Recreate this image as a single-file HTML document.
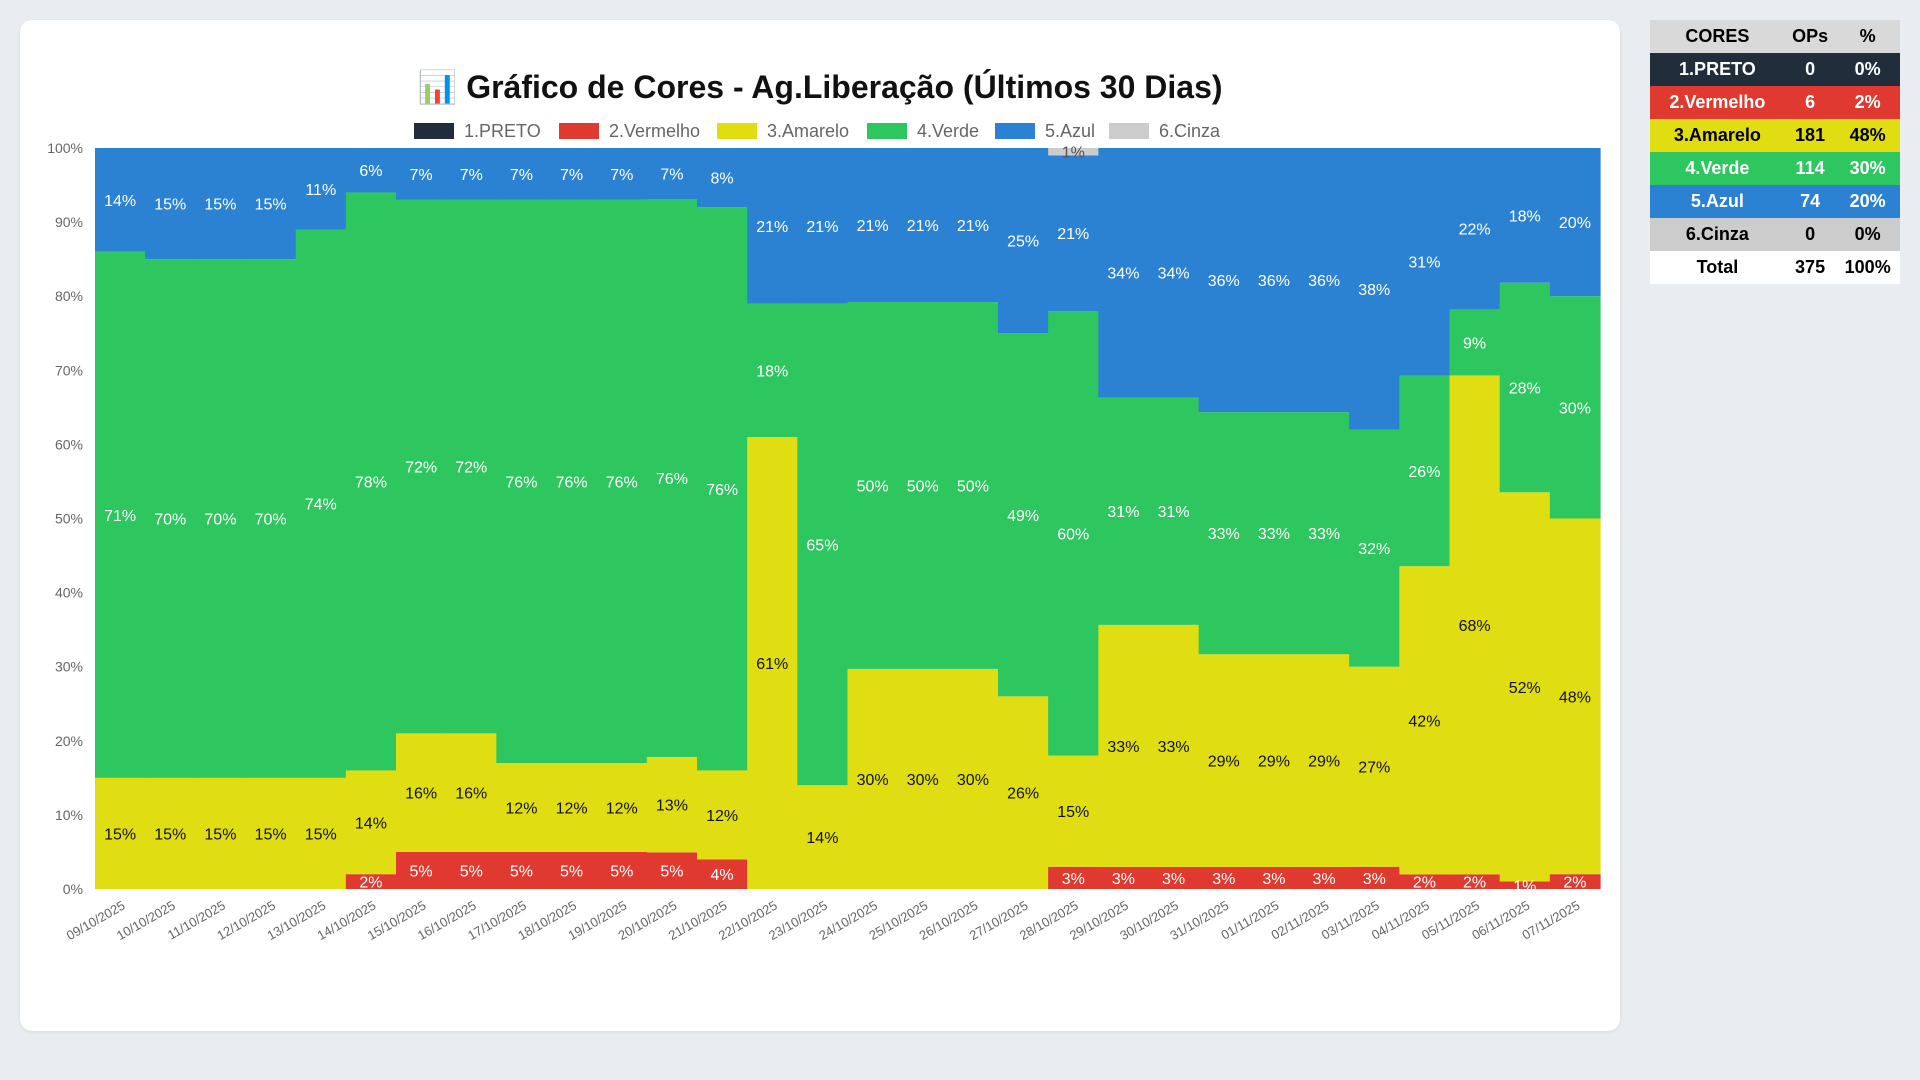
<!DOCTYPE html>
<html><head><meta charset="utf-8">
<style>
html,body{margin:0;padding:0;background:#e9edf1;width:1920px;height:1080px;overflow:hidden;font-family:"Liberation Sans",Arial,sans-serif;}
#card{position:absolute;left:20px;top:20px;width:1600px;height:1011px;background:#fff;border-radius:12px;box-shadow:0 1px 4px rgba(0,0,0,0.08);}
#chart{position:absolute;left:0;top:0;}
table{position:absolute;left:1650px;top:20px;width:250px;border-collapse:collapse;font-weight:bold;font-size:18px;text-align:center;}
td,th{height:33px;padding:0;}
th{background:#d9d9d9;color:#000;}
</style></head><body>
<div id="card"></div>
<svg id="chart" width="1640" height="1080"></svg>
<table>
<tr><th>CORES</th><th>OPs</th><th>%</th></tr>
<tr style="background:#212d3b;color:#fff"><td>1.PRETO</td><td>0</td><td>0%</td></tr>
<tr style="background:#e03a30;color:#fff"><td>2.Vermelho</td><td>6</td><td>2%</td></tr>
<tr style="background:#e0de12;color:#000"><td>3.Amarelo</td><td>181</td><td>48%</td></tr>
<tr style="background:#2ec65e;color:#fff"><td>4.Verde</td><td>114</td><td>30%</td></tr>
<tr style="background:#2b82d2;color:#fff"><td>5.Azul</td><td>74</td><td>20%</td></tr>
<tr style="background:#cccccc;color:#000"><td>6.Cinza</td><td>0</td><td>0%</td></tr>
<tr style="background:#fff;color:#000"><td>Total</td><td>375</td><td>100%</td></tr>
</table>
<script>
const categories=["09/10/2025","10/10/2025","11/10/2025","12/10/2025","13/10/2025","14/10/2025","15/10/2025","16/10/2025","17/10/2025","18/10/2025","19/10/2025","20/10/2025","21/10/2025","22/10/2025","23/10/2025","24/10/2025","25/10/2025","26/10/2025","27/10/2025","28/10/2025","29/10/2025","30/10/2025","31/10/2025","01/11/2025","02/11/2025","03/11/2025","04/11/2025","05/11/2025","06/11/2025","07/11/2025"];
const preto=[0,0,0,0,0,0,0,0,0,0,0,0,0,0,0,0,0,0,0,0,0,0,0,0,0,0,0,0,0,0];
const vermelho=[0,0,0,0,0,2,5,5,5,5,5,5,4,0,0,0,0,0,0,3,3,3,3,3,3,3,2,2,1,2];
const amarelo=[15,15,15,15,15,14,16,16,12,12,12,13,12,61,14,30,30,30,26,15,33,33,29,29,29,27,42,68,52,48];
const verde=[71,70,70,70,74,78,72,72,76,76,76,76,76,18,65,50,50,50,49,60,31,31,33,33,33,32,26,9,28,30];
const azul=[14,15,15,15,11,6,7,7,7,7,7,7,8,21,21,21,21,21,25,21,34,34,36,36,36,38,31,22,18,20];
const cinza=[0,0,0,0,0,0,0,0,0,0,0,0,0,0,0,0,0,0,0,1,0,0,0,0,0,0,0,0,0,0];
const yTicks=[0,10,20,30,40,50,60,70,80,90,100];
const seriesNames=["1.PRETO","2.Vermelho","3.Amarelo","4.Verde","5.Azul","6.Cinza"];
const series=[preto,vermelho,amarelo,verde,azul,cinza];
const colors=["#212d3b","#e03a30","#e0de12","#2ec65e","#2b82d2","#cccccc"];
const labelColors=["#fff","#fff","#111","#fff","#fff","#555"];
const keys=["preto","vermelho","amarelo","verde","azul","cinza"];

const NS="http://www.w3.org/2000/svg";
const svg=document.getElementById('chart');
const L=95,R=1600,T=148,B=889;
const bw=(R-L)/categories.length;
const x=i=>L+i*bw;
const y=v=>B-(v/100)*(B-T);
function mk(tag,attrs,parent){const e=document.createElementNS(NS,tag);for(const k in attrs)e.setAttribute(k,attrs[k]);(parent||svg).appendChild(e);return e;}

const title=mk('text',{x:820,y:98,'text-anchor':'middle','font-size':32,'font-weight':'bold',fill:'#111','font-family':'Liberation Sans, sans-serif'});


title.textContent="📊 Gráfico de Cores - Ag.Liberação (Últimos 30 Dias)";

const legX=[414,559,717,867,995,1109];
seriesNames.forEach((n,i)=>{
  const g=mk('g',{});
  
  
  mk('rect',{x:legX[i],y:123,width:40,height:16,fill:colors[i]},g);
  const t=mk('text',{x:legX[i]+50,y:137,'font-size':18,fill:'#666'},g);
  t.textContent=n;
});

yTicks.forEach(v=>{
  const t=mk('text',{x:83,y:y(v)+5,'text-anchor':'end','font-size':14,fill:'#666'});
  
  
  t.textContent=v+'%';
});

categories.forEach((c,i)=>{
  const tot=series.reduce((s,a)=>s+a[i],0)||1;
  let acc=0;
  series.forEach((arr,k)=>{
    const v=arr[i]/tot*100;
    if(arr[i]<=0)return;
    const r=mk('rect',{x:x(i),y:y(acc+v),width:bw+0.6,height:y(acc)-y(acc+v),fill:colors[k]});
    
    
    acc+=v;
  });
  acc=0;
  series.forEach((arr,k)=>{
    const v=arr[i]/tot*100;
    if(arr[i]<=0)return;
    const t=mk('text',{x:x(i)+bw/2,y:y(acc+v/2)+6,'text-anchor':'middle','font-size':16,fill:labelColors[k]});
    
    
    t.textContent=arr[i]+'%';
    acc+=v;
  });
  const cx=x(i)+bw/2+6;
  const lt=mk('text',{x:cx,y:908,'text-anchor':'end','font-size':13,fill:'#666',transform:`rotate(-30 ${cx} 908)`});
  
  
  lt.textContent=c;
});
</script>
</body></html>
